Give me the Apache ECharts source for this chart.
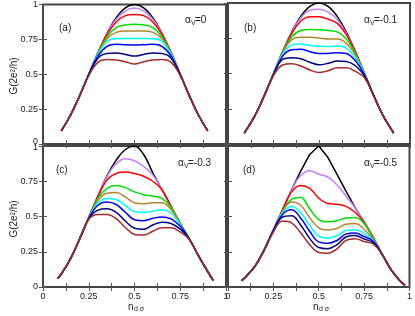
<!DOCTYPE html>
<html>
<head>
<meta charset="utf-8">
<script src="https://cdn.jsdelivr.net/npm/echarts@6/dist/echarts.min.js"></script>
<style>
  html, body { margin: 0; padding: 0; background: #fff; }
  #chart { width: 415px; height: 316px; }
</style>
</head>
<body>
<div id="chart"></div>
<script>
// n_dσ sample points, one list per panel
const xA = [0.1, 0.15, 0.2, 0.25, 0.3, 0.35, 0.4, 0.45, 0.5, 0.55, 0.6, 0.65, 0.7, 0.75, 0.8, 0.85, 0.9];
const xB = [0.09, 0.15, 0.2, 0.25, 0.3, 0.35, 0.4, 0.45, 0.5, 0.55, 0.6, 0.65, 0.7, 0.75, 0.8, 0.85, 0.91];
const xC = [0.08, 0.1, 0.15, 0.2, 0.25, 0.3, 0.35, 0.4, 0.45, 0.5, 0.55, 0.6, 0.65, 0.7, 0.75, 0.8, 0.85, 0.9, 0.93];
const xD = [0.075, 0.1, 0.15, 0.2, 0.25, 0.3, 0.35, 0.4, 0.45, 0.5, 0.55, 0.6, 0.65, 0.7, 0.75, 0.8, 0.85, 0.9, 0.95, 0.975];

// curve order: black, violet, red, green, brown, cyan, blue, navy, brownred
const colors = ['#000000', '#c080ff', '#ff0000', '#00dd00', '#b08830', '#00ffff', '#0000ff', '#000080', '#a52a2a'];

// (a) alpha_V = 0
const panelA = [
  [0.095,0.206,0.345,0.5,0.655,0.794,0.905,0.976,1.0,0.976,0.905,0.794,0.655,0.5,0.345,0.206,0.095],
  [0.095,0.206,0.345,0.5,0.655,0.792,0.895,0.955,0.975,0.955,0.895,0.792,0.655,0.5,0.345,0.206,0.095],
  [0.095,0.206,0.345,0.5,0.652,0.785,0.875,0.92,0.929,0.92,0.875,0.785,0.652,0.5,0.345,0.206,0.095],
  [0.095,0.206,0.345,0.5,0.65,0.77,0.835,0.853,0.858,0.853,0.835,0.77,0.65,0.5,0.345,0.206,0.095],
  [0.095,0.206,0.345,0.5,0.645,0.755,0.8,0.81,0.81,0.81,0.8,0.755,0.645,0.5,0.345,0.206,0.095],
  [0.095,0.206,0.345,0.5,0.64,0.735,0.755,0.756,0.756,0.756,0.755,0.735,0.64,0.5,0.345,0.206,0.095],
  [0.095,0.206,0.345,0.498,0.63,0.7,0.715,0.712,0.71,0.712,0.715,0.7,0.63,0.498,0.345,0.206,0.095],
  [0.095,0.206,0.345,0.495,0.615,0.648,0.652,0.642,0.63,0.642,0.652,0.648,0.615,0.495,0.345,0.206,0.095],
  [0.095,0.206,0.345,0.49,0.585,0.605,0.602,0.59,0.573,0.59,0.602,0.605,0.585,0.49,0.345,0.206,0.095]
];

// (b) alpha_V = -0.1
const panelB = [
  [0.078,0.206,0.345,0.5,0.655,0.794,0.905,0.976,1.0,0.976,0.905,0.794,0.655,0.5,0.345,0.206,0.078],
  [0.078,0.206,0.345,0.5,0.655,0.79,0.895,0.948,0.955,0.935,0.885,0.785,0.653,0.5,0.345,0.206,0.078],
  [0.078,0.206,0.345,0.5,0.652,0.783,0.872,0.903,0.902,0.885,0.855,0.775,0.65,0.5,0.345,0.206,0.078],
  [0.078,0.206,0.345,0.5,0.65,0.762,0.805,0.812,0.81,0.805,0.795,0.745,0.64,0.5,0.345,0.206,0.078],
  [0.078,0.206,0.345,0.498,0.645,0.74,0.757,0.757,0.752,0.745,0.745,0.715,0.63,0.498,0.345,0.206,0.078],
  [0.078,0.206,0.345,0.497,0.635,0.702,0.709,0.7,0.693,0.692,0.695,0.68,0.61,0.495,0.345,0.206,0.078],
  [0.078,0.206,0.345,0.495,0.623,0.668,0.672,0.655,0.642,0.642,0.648,0.642,0.59,0.49,0.345,0.206,0.078],
  [0.078,0.206,0.345,0.49,0.6,0.612,0.605,0.58,0.562,0.572,0.588,0.585,0.555,0.482,0.345,0.206,0.078],
  [0.078,0.206,0.345,0.485,0.56,0.569,0.553,0.525,0.507,0.52,0.54,0.54,0.515,0.47,0.34,0.206,0.078]
];

// (c) alpha_V = -0.3
const panelC = [
  [0.06,0.092,0.2,0.34,0.495,0.645,0.79,0.9,0.975,1.0,0.94,0.81,0.69,0.57,0.45,0.34,0.22,0.11,0.047],
  [0.06,0.092,0.2,0.34,0.492,0.64,0.785,0.875,0.91,0.895,0.855,0.795,0.69,0.57,0.45,0.34,0.22,0.11,0.047],
  [0.06,0.092,0.2,0.34,0.49,0.64,0.76,0.805,0.815,0.805,0.785,0.75,0.69,0.57,0.45,0.34,0.22,0.11,0.047],
  [0.06,0.092,0.2,0.34,0.49,0.63,0.7,0.72,0.705,0.675,0.655,0.645,0.628,0.565,0.45,0.34,0.22,0.11,0.047],
  [0.06,0.092,0.2,0.34,0.49,0.615,0.665,0.67,0.638,0.597,0.59,0.598,0.598,0.55,0.445,0.34,0.22,0.11,0.047],
  [0.06,0.092,0.2,0.34,0.488,0.595,0.628,0.62,0.578,0.535,0.528,0.538,0.548,0.525,0.44,0.34,0.22,0.11,0.047],
  [0.06,0.092,0.2,0.34,0.487,0.58,0.603,0.585,0.53,0.477,0.47,0.487,0.497,0.483,0.43,0.34,0.22,0.11,0.047],
  [0.06,0.092,0.2,0.34,0.485,0.545,0.555,0.53,0.468,0.417,0.41,0.44,0.46,0.45,0.41,0.34,0.22,0.11,0.047],
  [0.06,0.092,0.2,0.34,0.48,0.515,0.515,0.485,0.422,0.373,0.368,0.395,0.42,0.42,0.39,0.335,0.22,0.11,0.047]
];

// (d) alpha_V = -0.5
const panelD = [
  [0.045,0.075,0.15,0.265,0.405,0.545,0.69,0.82,0.94,1.0,0.92,0.8,0.68,0.565,0.46,0.35,0.23,0.12,0.04,0.012],
  [0.045,0.075,0.15,0.265,0.405,0.545,0.688,0.79,0.825,0.8,0.78,0.725,0.645,0.563,0.46,0.35,0.23,0.12,0.04,0.012],
  [0.045,0.075,0.15,0.265,0.405,0.545,0.675,0.72,0.7,0.63,0.592,0.587,0.572,0.53,0.46,0.35,0.23,0.12,0.04,0.012],
  [0.045,0.075,0.15,0.265,0.405,0.538,0.622,0.635,0.555,0.478,0.462,0.47,0.49,0.493,0.45,0.345,0.23,0.12,0.04,0.012],
  [0.045,0.075,0.15,0.265,0.404,0.533,0.603,0.58,0.492,0.42,0.405,0.415,0.445,0.45,0.41,0.335,0.23,0.12,0.04,0.012],
  [0.045,0.075,0.15,0.265,0.403,0.525,0.572,0.528,0.435,0.36,0.348,0.365,0.4,0.406,0.38,0.33,0.23,0.12,0.04,0.012],
  [0.045,0.075,0.15,0.265,0.402,0.515,0.548,0.49,0.395,0.32,0.31,0.33,0.375,0.383,0.358,0.325,0.23,0.12,0.04,0.012],
  [0.045,0.075,0.15,0.264,0.398,0.495,0.505,0.44,0.345,0.28,0.272,0.3,0.355,0.365,0.34,0.315,0.23,0.12,0.04,0.012],
  [0.045,0.075,0.15,0.262,0.39,0.468,0.455,0.385,0.3,0.245,0.24,0.27,0.33,0.343,0.322,0.305,0.23,0.12,0.04,0.012]
];

const panelTags = ['(a)', '(b)', '(c)', '(d)'];
const alphaValues = ['=0', '=-0.1', '=-0.3', '=-0.5'];

const font = "'Liberation Sans', Arial, sans-serif";
const textColor = '#222';

const grids = [
  { left: 43, top: 3, width: 183, height: 141 },
  { left: 228, top: 3, width: 182, height: 141 },
  { left: 43, top: 146, width: 183, height: 141 },
  { left: 228, top: 146, width: 182, height: 141 }
];

const xAxes = [];
const yAxes = [];
grids.forEach((g, i) => {
  const bottomRow = i >= 2;
  const leftCol = i % 2 === 0;
  const tick = { show: true, inside: true, length: 4, lineStyle: { color: '#555', width: 1 } };
  // bottom + top x axes
  xAxes.push({
    type: 'value', gridIndex: i, position: 'bottom', min: 0, max: 1, interval: 0.125,
    axisLine: { show: false }, splitLine: { show: false }, axisTick: tick,
    axisLabel: {
      show: bottomRow, color: textColor, fontSize: 9, fontFamily: font, margin: 5,
      formatter: v => Math.abs(v * 4 - Math.round(v * 4)) < 1e-6 ? String(+v.toFixed(2)) : ''
    }
  });
  xAxes.push({
    type: 'value', gridIndex: i, position: 'top', min: 0, max: 1, interval: 0.125,
    axisLine: { show: false }, splitLine: { show: false }, axisTick: tick, axisLabel: { show: false }
  });
  // left + right y axes
  yAxes.push({
    type: 'value', gridIndex: i, position: 'left', min: 0, max: 1, interval: 0.25,
    axisLine: { show: false }, splitLine: { show: false }, axisTick: tick,
    axisLabel: {
      show: leftCol, color: textColor, fontSize: 9, fontFamily: font, margin: 5,
      formatter: v => {
        if (!bottomRow && v === 0) return '{lo|0}';
        if (bottomRow && v === 1) return '{hi|1}';
        return String(v);
      },
      rich: {
        lo: { fontSize: 9, fontFamily: font, color: textColor, padding: [0, 0, 5, 0] },
        hi: { fontSize: 9, fontFamily: font, color: textColor, padding: [4, 0, 0, 0] }
      }
    }
  });
  yAxes.push({
    type: 'value', gridIndex: i, position: 'right', min: 0, max: 1, interval: 0.25,
    axisLine: { show: false }, splitLine: { show: false }, axisTick: tick, axisLabel: { show: false }
  });
});

const panels = [
  { xs: xA, curves: panelA },
  { xs: xB, curves: panelB },
  { xs: xC, curves: panelC },
  { xs: xD, curves: panelD }
];

const series = [];
panels.forEach((p, i) => {
  p.curves.forEach((vals, k) => {
    series.push({
      type: 'line',
      xAxisIndex: i * 2,
      yAxisIndex: i * 2,
      data: p.xs.map((x, j) => [x, vals[j]]),
      showSymbol: false,
      smooth: (i === 3 && k === 0) ? false : 0.4,
      lineStyle: { color: colors[k], width: 1.5 },
      silent: true,
      animation: false
    });
  });
});

// text decorations
const tagPos = [[59, 29], [244, 29], [56, 171], [243, 171]];
const alphaPos = [[185, 21], [364, 21], [178, 164], [364, 164]];
const graphic = [];
panelTags.forEach((t, i) => {
  graphic.push({
    type: 'text', left: tagPos[i][0], top: tagPos[i][1] - 6,
    style: { text: t, font: '10px ' + font, fill: textColor }
  });
});
alphaValues.forEach((t, i) => {
  const [x, y] = alphaPos[i];
  graphic.push({ type: 'text', left: x, top: y - 6, style: { text: 'α', font: '10px ' + font, fill: textColor } });
  graphic.push({ type: 'text', left: x + 6, top: y - 1, style: { text: 'V', font: '7px ' + font, fill: textColor } });
  graphic.push({ type: 'text', left: x + 10, top: y - 6, style: { text: t, font: '10px ' + font, fill: textColor } });
});
// y axis names
[76, 219].forEach(cy => {
  graphic.push({
    type: 'text', x: 14, y: cy, rotation: Math.PI / 2,
    style: { text: 'G(2e²/h)', font: '10px ' + font, fill: textColor, align: 'center', verticalAlign: 'middle' }
  });
});
// x axis names
[128, 313].forEach(x => {
  graphic.push({ type: 'text', left: x, top: 302, style: { text: 'n', font: '10px ' + font, fill: textColor } });
  graphic.push({ type: 'text', left: x + 6, top: 306, style: { text: 'd σ', font: '7px ' + font, fill: textColor } });
});

const chart = echarts.init(document.getElementById('chart'), null, { renderer: 'canvas' });
chart.setOption({
  animation: false,
  backgroundColor: '#fff',
  grid: grids.map(g => Object.assign({ show: true, borderColor: '#444', borderWidth: 2, backgroundColor: 'transparent' }, g)),
  xAxis: xAxes,
  yAxis: yAxes,
  series: series,
  graphic: graphic
});
</script>
</body>
</html>
